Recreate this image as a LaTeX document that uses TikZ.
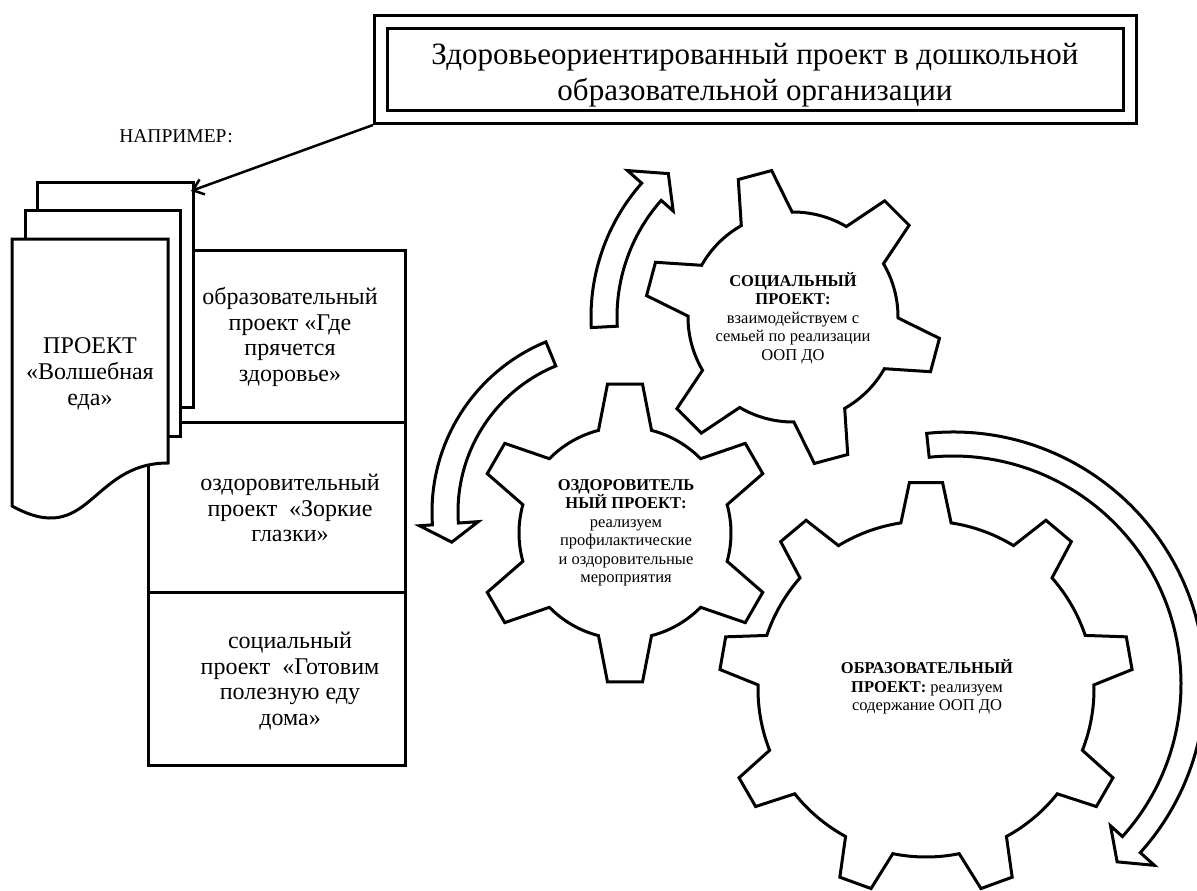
\documentclass[tikz,border=0pt]{standalone}
\usepackage{fontspec}
\setmainfont{Liberation Serif}
\usetikzlibrary{arrows.meta}

% gear outline: #1 centre, #2 teeth, #3 first tooth angle, #4 root radius,
% #5 tip radius, #6 tip half-angle, #7 root half-angle
\newcommand{\gearshape}[7]{%
  \begin{scope}[shift={#1}, yscale=-1]
    \draw[gearline] ({#3-#7}:#4)
      \foreach \gi in {1,...,#2} {
        -- ({#3+(\gi-1)*360/#2-#6}:#5)
        -- ({#3+(\gi-1)*360/#2+#6}:#5)
        -- ({#3+(\gi-1)*360/#2+#7}:#4)
        arc[start angle={#3+(\gi-1)*360/#2+#7}, end angle={#3+\gi*360/#2-#7}, radius=#4]
      } -- cycle;
  \end{scope}}

% curved block arrow: #1 centre, #2 tail angle, #3 head angle, #4 inner radius,
% #5 outer radius, #6 inner barb radius, #7 outer barb radius, #8 tip angle, #9 tip radius
\newcommand{\ringarrow}[9]{%
  \begin{scope}[shift={#1}, yscale=-1]
    \draw[arrowline] (#2:#5) arc[start angle=#2, end angle=#3, radius=#5]
      -- (#3:#7) -- (#8:#9) -- (#3:#6) -- (#3:#4)
      arc[start angle=#3, end angle=#2, radius=#4] -- cycle;
  \end{scope}}

\begin{document}
\begin{tikzpicture}[x=1pt, y=-1pt,
  outline/.style={draw=black, line width=3pt, line join=miter, fill=white},
  gearline/.style={outline},
  arrowline/.style={outline},
  listbox/.style={draw=black, line width=3pt, minimum width=257pt, inner sep=0pt},
  listtext/.style={align=center, inner sep=0pt, font=\fontsize{24}{25.7}\selectfont},
  geartext/.style={align=center, inner sep=0pt, font=\fontsize{16.5}{18.5}\selectfont},
  titlebox/.style={draw=black, fill=white, line width=3pt, double=white,
    double distance=10.5pt, minimum width=749pt, minimum height=95pt,
    inner sep=0pt, outer sep=8pt},
  titletext/.style={align=center, inner sep=0pt, font=\fontsize{31}{35.5}\selectfont},
  connector/.style={line width=2.5pt, -{Straight Barb[length=10pt,width=16pt]}}]

\clip (0,0) rectangle (1197,891);
\fill[white] (0,0) rectangle (1197,891);

% list of sub-projects
\node[listbox, minimum height=172pt] (b1) at (276.5,336) {};
\node[listbox, minimum height=170pt] (b2) at (276.5,507) {};
\node[listbox, minimum height=173pt] (b3) at (276.5,678.5) {};
\node[listtext] (t1) at (290,337) {образовательный\\проект «Где\\прячется\\здоровье»};
\node[listtext] (t2) at (290,508) {оздоровительный\\проект\ \ «Зоркие\\глазки»};
\node[listtext] (t3) at (290,681) {социальный\\проект\ \ «Готовим\\полезную еду\\дома»};

% stack of documents
\draw[outline] (37,182) rectangle (193,407);
\draw[outline] (25,210) rectangle (180,436);
\draw[outline] (12,239) -- (168,239) -- (168,463)
  .. controls (90,463) and (90,549) .. (12,506) -- cycle;
\node[listtext] (doc) at (90,374) {ПРОЕКТ\\«Волшебная\\еда»};
\coordinate (stacktop) at (191,191);

% rotation arrows
\ringarrow{(793,317)}{183}{138.5}{176}{202}{160}{221}{131}{190}
\ringarrow{(616,512)}{112.4}{184}{158}{184}{138}{197}{190.4}{167}
\ringarrow{(953,684)}{96}{-42}{228}{252}{212}{271}{-47.3}{242}

% gears
\gearshape{(625,533)}{6}{90}{106}{150}{6.7}{14.5}
\gearshape{(793,317)}{6}{45}{105}{148}{6.7}{14.5}
\gearshape{(926,689)}{9}{90}{168}{207}{4.6}{8.6}

\node[geartext] (health) at (626,533) {\textbf{ОЗДОРОВИТЕЛЬ}\\\textbf{НЫЙ ПРОЕКТ:}\\реализуем\\профилактические\\и оздоровительные\\мероприятия};
\node[geartext] (social) at (793,318) {\textbf{СОЦИАЛЬНЫЙ}\\\textbf{ПРОЕКТ:}\\взаимодействуем с\\семьей по реализации\\ООП ДО};
\node[geartext] (edu) at (927,687) {\textbf{ОБРАЗОВАТЕЛЬНЫЙ}\\\textbf{ПРОЕКТ:} реализуем\\содержание ООП ДО};

% heading
\node[titlebox] (title) at (755.5,69.5) {};
\node[titletext] (titlelabel) at (755,75) {Здоровьеориентированный проект в дошкольной\\образовательной организации};
\node[font=\fontsize{19.5}{22}\selectfont, inner sep=0pt] (example) at (176,136) {НАПРИМЕР:};
\draw[connector] (title.south west) -- (stacktop);

\end{tikzpicture}
\end{document}
